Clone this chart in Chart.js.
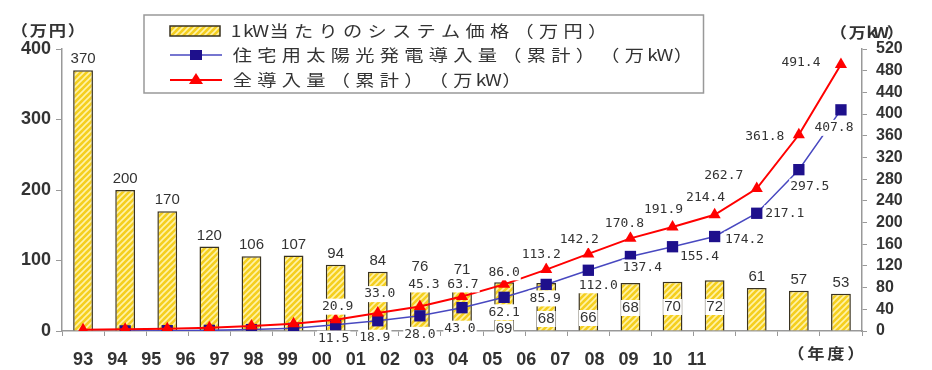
<!DOCTYPE html>
<html>
<head>
<meta charset="utf-8">
<script src="https://cdn.jsdelivr.net/npm/chart.js@4.4.1/dist/chart.umd.min.js"></script>
<style>
    html, body { margin: 0; padding: 0; background: #fff; }
    #wrap { width: 932px; height: 370px; }
</style>
</head>
<body>
<div id="wrap"><canvas id="pvChart" width="932" height="370"></canvas></div>
<script>
// 年度
const years = ['93', '94', '95', '96', '97', '98', '99', '00', '01', '02', '03', '04', '05', '06', '07', '08', '09', '10', '11'];
// 1kW当たりのシステム価格（万円）
const systemPrice = [370, 200, 170, 120, 106, 107, 94, 84, 76, 71, 69, 68, 66, 68, 70, 72, 61, 57, 53];
// 住宅用太陽光発電導入量（累計）（万kW）
const residentialTotal = [null, 0.2, 0.6, 1.2, 2.6, 5.0, 11.5, 18.9, 28.0, 43.0, 62.1, 85.9, 112.0, 137.4, 155.4, 174.2, 217.1, 297.5, 407.8];
// 全導入量（累計）（万kW）
const allTotal = [2.4, 3.1, 4.3, 5.9, 9.1, 13.3, 20.9, 33.0, 45.3, 63.7, 86.0, 113.2, 142.2, 170.8, 191.9, 214.4, 262.7, 361.8, 491.4];

const seriesNames = ['1kW当たりのシステム価格（万円）', '住宅用太陽光発電導入量（累計）（万kW）', '全導入量（累計）（万kW）'];

// where the value labels sit relative to their point (style only)
const firstLineLabel = 6;
const redLabelShift = [[2, -13], [2, -19], [4, -22], [1, -12], [0, -12], [-5, -15], [-9, -14], [-6, -15], [-9, -17], [-9, -17], [-33, -13], [-34, 2], [-40, -2]];
const blueLabelShift = [[-2, 14], [-3, 17], [0, 19], [-2, 21], [0, 15], [-1, 14], [10, 15], [12, 11], [27, 10], [30, 3], [28, 0], [11, 17], [-7, 18]];
const insideBarLabel = { 10: 2, 11: 12, 12: 13, 13: 23, 14: 24, 15: 24 };

const textColor = '#333';

function makeHatch() {
    const c = document.createElement('canvas');
    c.width = 6;
    c.height = 6;
    const g = c.getContext('2d');
    g.fillStyle = '#F5CF1F';
    g.fillRect(0, 0, 6, 6);
    g.strokeStyle = '#FFF3A8';
    g.lineWidth = 1.6;
    g.beginPath();
    g.moveTo(-1, 7); g.lineTo(7, -1);
    g.moveTo(-4, 4); g.lineTo(4, -4);
    g.moveTo(2, 10); g.lineTo(10, 2);
    g.stroke();
    return g.createPattern(c, 'repeat');
}

const hatch = makeHatch();

function labelWithBox(ctx, text, x, y) {
    const w = ctx.measureText(text).width;
    ctx.fillStyle = '#fff';
    ctx.fillRect(x - w / 2 - 1, y - 8, w + 2, 16);
    ctx.fillStyle = textColor;
    ctx.fillText(text, x, y);
}

// fixed-pitch text, wide glyphs like the old gothic fonts
function spacedText(ctx, text, x, y, pitch, stretch, measureOnly) {
    let cx = x;
    for (const ch of text) {
        const step = ch.charCodeAt(0) > 0xff ? pitch : pitch / 2;
        if (!measureOnly) {
            ctx.save();
            ctx.translate(cx + step / 2, y);
            ctx.scale(stretch, 1);
            ctx.textAlign = 'center';
            ctx.fillText(ch, 0, 0);
            ctx.restore();
        }
        cx += step;
    }
    return cx - x;
}

const chartDecorations = {
    id: 'chartDecorations',
    afterDatasetsDraw(chart) {
        const ctx = chart.ctx;
        ctx.save();
        ctx.textAlign = 'center';
        ctx.textBaseline = 'middle';

        // price labels on the bars
        ctx.font = '15px "Liberation Sans", Arial, sans-serif';
        const bars = chart.getDatasetMeta(0).data;
        const zeroY = chart.scales.y.getPixelForValue(0);
        bars.forEach((bar, i) => {
            const text = String(systemPrice[i]);
            if (insideBarLabel[i] !== undefined) {
                labelWithBox(ctx, text, bar.x, zeroY - insideBarLabel[i]);
            } else {
                ctx.fillStyle = textColor;
                ctx.fillText(text, bar.x, bar.y - 11);
            }
        });

        // cumulative capacity labels
        ctx.font = '13px "DejaVu Sans Mono", monospace';
        const blue = chart.getDatasetMeta(1).data;
        const red = chart.getDatasetMeta(2).data;
        for (let i = firstLineLabel; i < years.length; i++) {
            const k = i - firstLineLabel;
            const b = blue[i];
            labelWithBox(ctx, residentialTotal[i].toFixed(1), b.x + blueLabelShift[k][0], b.y + blueLabelShift[k][1]);
            const r = red[i];
            labelWithBox(ctx, allTotal[i].toFixed(1), r.x + redLabelShift[k][0], r.y + redLabelShift[k][1]);
        }
        ctx.restore();
    },
    afterDraw(chart) {
        const ctx = chart.ctx;
        ctx.save();
        ctx.fillStyle = textColor;
        ctx.textBaseline = 'middle';

        // units
        ctx.font = 'bold 15px "Noto Sans CJK JP", sans-serif';
        spacedText(ctx, '（万円）', 10, 30, 19, 1.15);
        spacedText(ctx, '（万kW）', 829, 32, 19, 1.15);
        spacedText(ctx, '（年度）', 786, 353, 20, 1.15);

        // legend
        const boxX = 144, boxY = 15, rowY = [31, 55, 80];
        const textX = 230, pitch = 24.5;
        ctx.font = '16px "Noto Sans CJK JP", sans-serif';
        let maxW = 0;
        seriesNames.forEach(n => { maxW = Math.max(maxW, spacedText(ctx, n, 0, 0, pitch, 1, true)); });
        const boxW = textX + maxW + 8 - boxX;
        ctx.fillStyle = '#fff';
        ctx.fillRect(boxX, boxY, boxW, 78);
        ctx.strokeStyle = '#999';
        ctx.lineWidth = 1.5;
        ctx.strokeRect(boxX, boxY, boxW, 78);

        ctx.fillStyle = textColor;
        seriesNames.forEach((n, i) => spacedText(ctx, n, textX, rowY[i], pitch, 1.2));

        // bar swatch
        ctx.fillStyle = hatch;
        ctx.fillRect(170, rowY[0] - 5, 50, 10);
        ctx.strokeStyle = '#3A3320';
        ctx.lineWidth = 1.5;
        ctx.strokeRect(170, rowY[0] - 5, 50, 10);

        // residential swatch
        ctx.strokeStyle = '#4848C0';
        ctx.lineWidth = 1.5;
        ctx.beginPath();
        ctx.moveTo(170, rowY[1]);
        ctx.lineTo(222, rowY[1]);
        ctx.stroke();
        ctx.fillStyle = '#1E108C';
        ctx.fillRect(190, rowY[1] - 5, 12, 10);

        // total swatch
        ctx.strokeStyle = '#FF0000';
        ctx.lineWidth = 2;
        ctx.beginPath();
        ctx.moveTo(170, rowY[2]);
        ctx.lineTo(222, rowY[2]);
        ctx.stroke();
        ctx.fillStyle = '#FF0000';
        ctx.beginPath();
        ctx.moveTo(196, rowY[2] - 7);
        ctx.lineTo(203, rowY[2] + 4);
        ctx.lineTo(189, rowY[2] + 4);
        ctx.closePath();
        ctx.fill();
        ctx.restore();
    }
};

const tickFont = { family: '"Liberation Sans", Arial, sans-serif', size: 18, weight: 'bold' };

const ctx = document.getElementById('pvChart').getContext('2d');
new Chart(ctx, {
    type: 'bar',
    data: {
        labels: years,
        datasets: [{
            type: 'bar',
            label: seriesNames[0],
            data: systemPrice,
            yAxisID: 'y',
            backgroundColor: hatch,
            borderColor: '#3A3320',
            borderWidth: 1.5,
            barPercentage: 0.47,
            categoryPercentage: 1,
            order: 3
        }, {
            type: 'line',
            label: seriesNames[1],
            data: residentialTotal,
            yAxisID: 'y1',
            borderColor: '#4848C0',
            borderWidth: 1.5,
            pointStyle: 'rect',
            pointRadius: 8,
            pointBackgroundColor: '#1E108C',
            pointBorderColor: '#1E108C',
            pointBorderWidth: 0,
            tension: 0,
            order: 2
        }, {
            type: 'line',
            label: seriesNames[2],
            data: allTotal,
            yAxisID: 'y1',
            borderColor: '#FF0000',
            borderWidth: 2,
            pointStyle: 'triangle',
            pointRadius: 7,
            pointBackgroundColor: '#FF0000',
            pointBorderColor: '#FF0000',
            pointBorderWidth: 0,
            tension: 0,
            order: 1
        }]
    },
    options: {
        responsive: false,
        animation: false,
        layout: { padding: { top: 49, left: 0, right: 0, bottom: 0 } },
        plugins: {
            legend: { display: false },
            tooltip: { enabled: false }
        },
        scales: {
            x: {
                grid: { drawOnChartArea: false, tickLength: 5, color: '#999', offset: true },
                border: { color: '#999', width: 1.5 },
                ticks: { display: false },
                afterFit: s => { s.height = 8; }
            },
            // year captions run tighter than the bars in the original picture
            yearAxis: {
                type: 'linear',
                position: 'bottom',
                offset: false,
                min: -0.62,
                max: 22.85,
                grid: { display: false },
                border: { display: false },
                ticks: {
                    stepSize: 1,
                    includeBounds: false,
                    autoSkip: false,
                    maxRotation: 0,
                    font: tickFont,
                    color: textColor,
                    padding: 2,
                    callback: v => (years[v] !== undefined ? years[v] : '')
                },
                afterFit: s => { s.height = 31; }
            },
            y: {
                position: 'left',
                min: 0,
                max: 400,
                grid: { drawOnChartArea: false, tickLength: 6, color: '#999' },
                border: { color: '#999', width: 1.5 },
                ticks: { stepSize: 100, font: tickFont, color: textColor, padding: 5 },
                afterFit: s => { s.width = 62; }
            },
            y1: {
                position: 'right',
                min: 0,
                max: 520,
                grid: { drawOnChartArea: false, tickLength: 5, color: '#999' },
                border: { color: '#999', width: 1.5 },
                ticks: { stepSize: 40, autoSkip: false, font: { family: '"Liberation Sans", Arial, sans-serif', size: 16, weight: 'bold' }, color: textColor, padding: 9 },
                afterFit: s => { s.width = 70; }
            }
        }
    },
    plugins: [chartDecorations]
});
</script>
</body>
</html>
